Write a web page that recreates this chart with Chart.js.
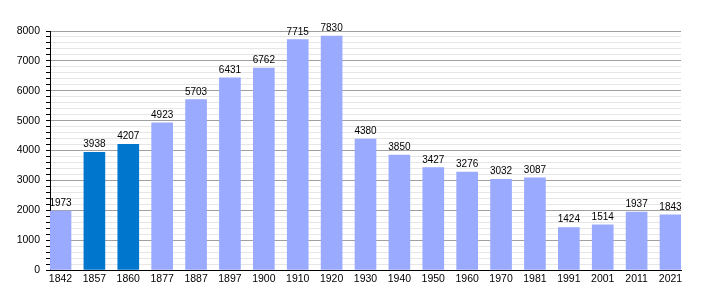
<!DOCTYPE html>
<html>
<head>
<meta charset="utf-8">
<script src="https://cdn.jsdelivr.net/npm/chart.js@4/dist/chart.umd.min.js"></script>
<style>
  html, body { margin: 0; padding: 0; background: #fff; }
  #wrap { width: 710px; height: 300px; }
</style>
</head>
<body>
<div id="wrap"><canvas id="popChart" width="710" height="300"></canvas></div>
<script>
const years = ['1842', '1857', '1860', '1877', '1887', '1897', '1900', '1910', '1920', '1930',
               '1940', '1950', '1960', '1970', '1981', '1991', '2001', '2011', '2021'];
const population = [1973, 3938, 4207, 4923, 5703, 6431, 6762, 7715, 7830, 4380,
                     3850, 3427, 3276, 3032, 3087, 1424, 1514, 1937, 1843];
const highlighted = ['1857', '1860'];
const yTicks = [0, 1000, 2000, 3000, 4000, 5000, 6000, 7000, 8000];

const lightBlue = '#99aaff';
const darkBlue = '#0077cc';
const fontFamily = '"Liberation Sans", Arial, sans-serif';

// labels above every bar
const valueLabels = {
    id: 'valueLabels',
    afterDatasetsDraw(chart) {
        const ctx = chart.ctx;
        const meta = chart.getDatasetMeta(0);
        ctx.save();
        ctx.font = '10px ' + fontFamily;
        ctx.fillStyle = '#000';
        ctx.textAlign = 'center';
        ctx.textBaseline = 'alphabetic';
        meta.data.forEach(function(bar, i) {
            ctx.fillText(String(population[i]), bar.x, bar.y - 5);
        });
        ctx.restore();
    }
};

document.addEventListener('DOMContentLoaded', function() {
    const ctx = document.getElementById('popChart').getContext('2d');
    const points = population.map((v, i) => ({ x: i, y: v }));

    new Chart(ctx, {
        type: 'bar',
        data: {
            datasets: [{
                data: points,
                backgroundColor: years.map(y => highlighted.includes(y) ? darkBlue : lightBlue),
                barThickness: 21,
                borderWidth: 0
            }]
        },
        options: {
            responsive: false,
            animation: false,
            layout: { padding: { top: 31, right: 29, left: 0, bottom: 0 } },
            plugins: {
                legend: { display: false },
                tooltip: { enabled: false }
            },
            scales: {
                x: {
                    type: 'linear',
                    offset: false,
                    min: -0.31,
                    max: 18.31,
                    afterFit(scale) { scale.height = 30; },
                    afterBuildTicks(scale) {
                        scale.ticks = years.map((_, i) => ({ value: i }));
                    },
                    grid: { display: false, drawTicks: false },
                    border: { display: true, color: '#000', width: 1 },
                    ticks: {
                        padding: 3,
                        maxRotation: 0,
                        autoSkip: false,
                        color: '#000',
                        font: { family: fontFamily, size: 10.5 },
                        callback: v => years[v]
                    }
                },
                y: {
                    min: 0,
                    max: 8000,
                    afterFit(scale) { scale.width = 50; },
                    afterBuildTicks(scale) {
                        const t = [];
                        for (let v = 0; v <= 8000; v += 200) t.push({ value: v });
                        scale.ticks = t;
                    },
                    grid: {
                        color: c => (c.tick.value % 1000 === 0 ? '#a0a0a0' : '#e6e6e6'),
                        tickColor: '#000',
                        tickLength: 4,
                        lineWidth: 1
                    },
                    border: { display: true, color: '#000', width: 1 },
                    ticks: {
                        padding: 6,
                        autoSkip: false,
                        color: '#000',
                        font: { family: fontFamily, size: 10.5 },
                        callback: v => (yTicks.includes(v) ? String(v) : '')
                    }
                }
            }
        },
        plugins: [valueLabels]
    });
});
</script>
</body>
</html>
